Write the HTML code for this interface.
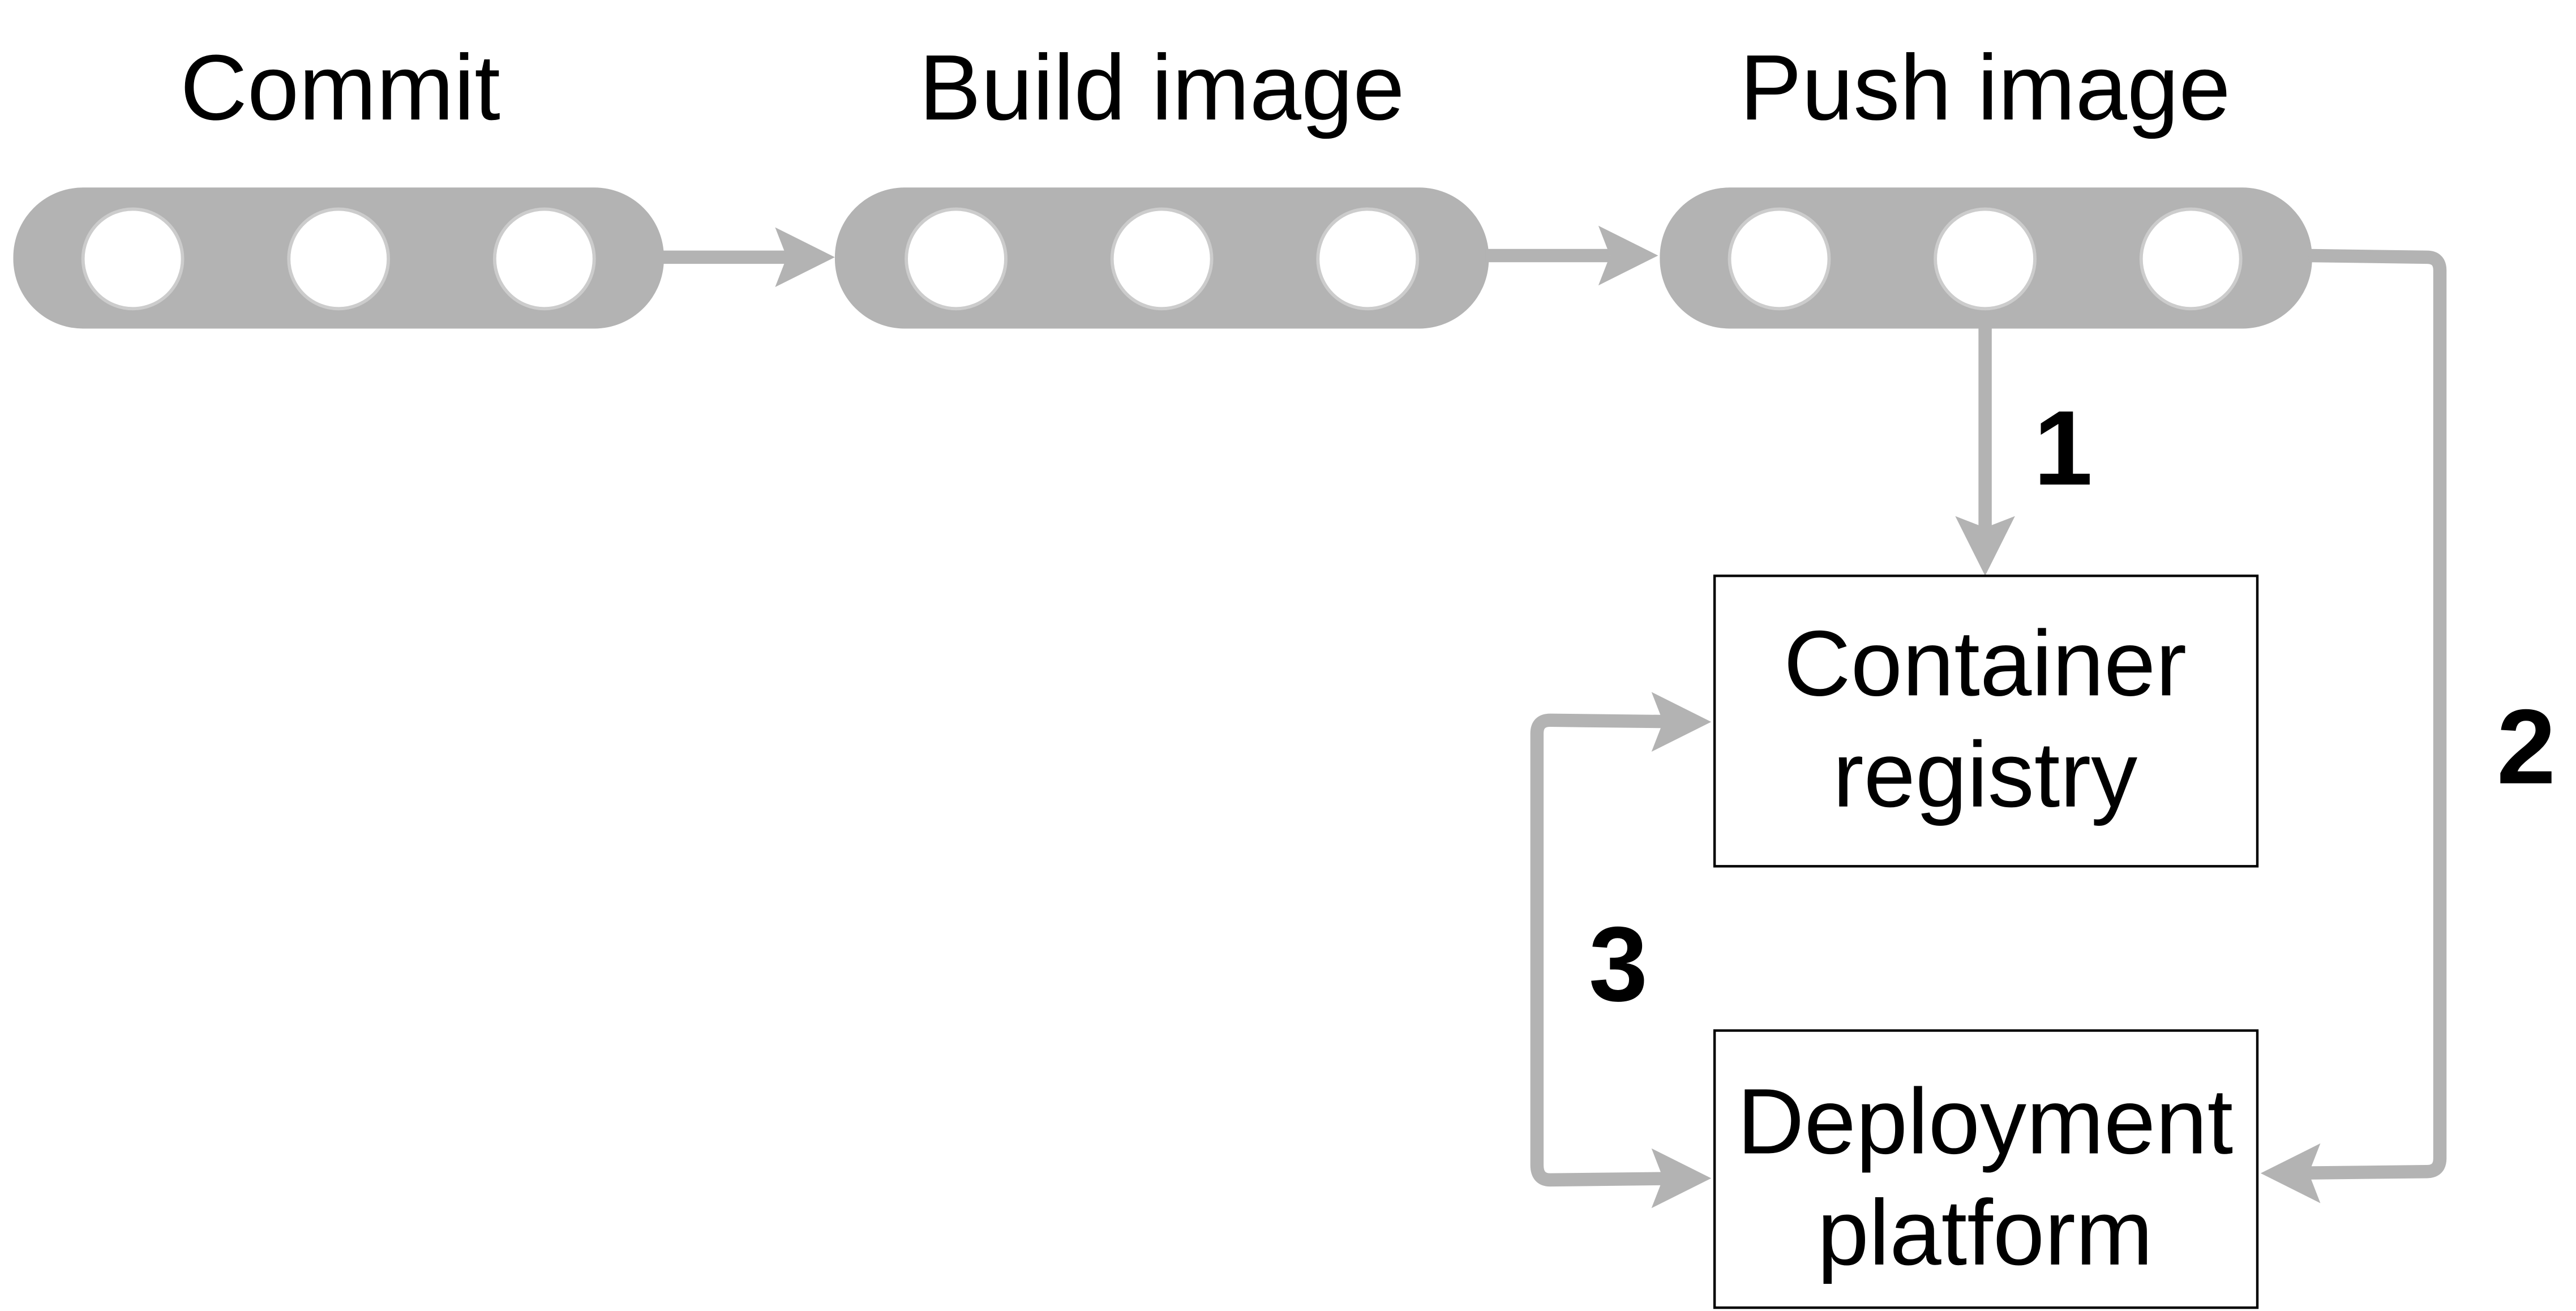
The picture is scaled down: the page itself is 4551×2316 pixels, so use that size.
<!DOCTYPE html>
<html><head><meta charset="utf-8"><style>
html,body{margin:0;padding:0;background:#fff;}
svg{display:block;}
text{font-family:"Liberation Sans",Arial,sans-serif;}
</style></head><body>
<svg width="4551" height="2316" viewBox="0 0 1552 790" preserveAspectRatio="none" xmlns="http://www.w3.org/2000/svg">
<defs>
<path id="ah" d="M0 0 L-36 -18 L-29 0 L-36 18 Z" fill="#b3b3b3"/>
</defs>
<text x="205" y="72" font-size="56" text-anchor="middle">Commit</text>
<text x="700" y="72" font-size="56" text-anchor="middle">Build image</text>
<text x="1196" y="72" font-size="56" text-anchor="middle">Push image</text>
<g fill="#b3b3b3">
<rect x="8" y="113" width="392" height="85" rx="42"/>
<rect x="503" y="113" width="394" height="85" rx="42"/>
<rect x="1000" y="113" width="393" height="85" rx="42"/>
</g>
<g fill="#fff" stroke="#cccccc" stroke-width="2">
<circle cx="80" cy="156" r="30"/><circle cx="204" cy="156" r="30"/><circle cx="328" cy="156" r="30"/>
<circle cx="576" cy="156" r="30"/><circle cx="700" cy="156" r="30"/><circle cx="824" cy="156" r="30"/>
<circle cx="1072" cy="156" r="30"/><circle cx="1196" cy="156" r="30"/><circle cx="1320" cy="156" r="30"/>
</g>
<g stroke="#b3b3b3" stroke-width="8" fill="none">
<line x1="398" y1="155" x2="475" y2="155"/>
<line x1="895" y1="154" x2="970" y2="154"/>
<line x1="1196" y1="196" x2="1196" y2="320"/>
<path d="M1391 154 L1462 155 Q1470 155 1470 163 L1470 698 Q1470 706 1462 706 L1372 707"/>
<path d="M1022 435 L934 434 Q926 434 926 442 L926 702 Q926 711 934 711 L1022 710"/>
</g>
<use href="#ah" transform="translate(503,155)"/>
<use href="#ah" transform="translate(999,154)"/>
<use href="#ah" transform="translate(1196,347) rotate(90)"/>
<use href="#ah" transform="translate(1362,707) rotate(180)"/>
<use href="#ah" transform="translate(1031,435)"/>
<use href="#ah" transform="translate(1031,710)"/>
<rect x="1033" y="347" width="327" height="175" fill="#fff" stroke="#000" stroke-width="1.5"/>
<rect x="1033" y="621" width="327" height="167" fill="#fff" stroke="#000" stroke-width="1.5"/>
<text x="1196" y="419" font-size="56" text-anchor="middle">Container</text>
<text x="1196" y="486" font-size="56" text-anchor="middle">registry</text>
<text x="1196" y="695" font-size="56" text-anchor="middle">Deployment</text>
<text x="1196" y="762" font-size="56" text-anchor="middle">platform</text>
<text x="1243" y="292" font-size="64" font-weight="bold" text-anchor="middle">1</text>
<text x="1522" y="472" font-size="64" font-weight="bold" text-anchor="middle">2</text>
<text x="975" y="603" font-size="64" font-weight="bold" text-anchor="middle">3</text>
</svg>
</body></html>
